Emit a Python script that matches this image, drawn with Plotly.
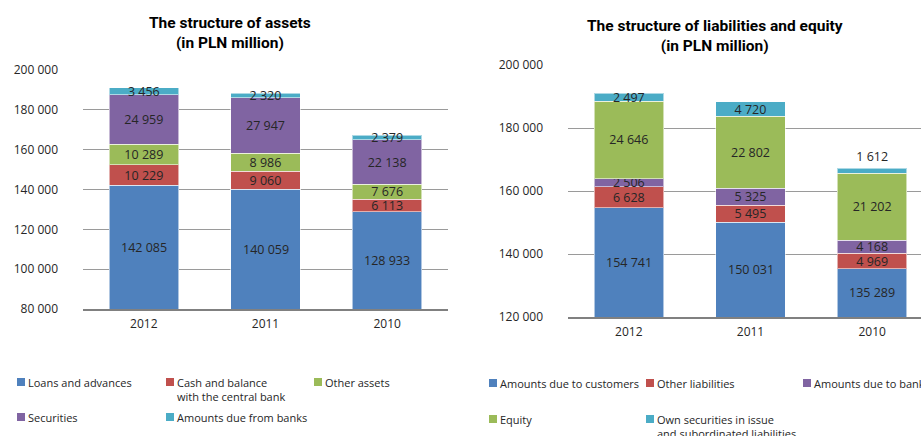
import plotly.graph_objects as go

# ---------------- data ----------------
years = ["2012", "2011", "2010"]

# Assets (PLN million)
asset_names = ["Loans and advances", "Cash and balance<br>with the central bank",
               "Other assets", "Securities", "Amounts due from banks"]
loans = [142085, 140059, 128933]
cash = [10229, 9060, 6113]
other_assets = [10289, 8986, 7676]
securities = [24959, 27947, 22138]
due_from_banks = [3456, 2320, 2379]

# Liabilities and equity (PLN million)
liab_names = ["Amounts due to customers", "Other liabilities", "Amounts due to banks",
              "Equity", "Own securities in issue<br>and subordinated liabilities"]
due_to_customers = [154741, 150031, 135289]
other_liab = [6628, 5495, 4969]
due_to_banks = [2506, 5325, 4168]
equity = [24646, 22802, 21202]
own_securities = [2497, 4720, 1612]

asset_ticks = [80000, 100000, 120000, 140000, 160000, 180000, 200000]
liab_ticks = [120000, 140000, 160000, 180000, 200000]

BLUE, RED, GREEN, PURPLE, CYAN = "#4F81BD", "#C0504D", "#9BBB59", "#8064A2", "#4BACC6"
asset_colors = [BLUE, RED, GREEN, PURPLE, CYAN]
liab_colors = [BLUE, RED, PURPLE, GREEN, CYAN]

FONT = "Open Sans"
TXT = "#262626"
W, H = 921, 436


def fmt(v):
    return f"{v:,}".replace(",", " ")


def px_x(p):
    return p / W


def px_y(p):
    return 1 - p / H


fig = go.Figure()
annotations = []
shapes = []

LABEL_FONT = dict(family=FONT, size=12.5, color=TXT)


def add_stack(series, names, colors, xa, ya, ymin, top_pos):
    for i, (name, vals, col) in enumerate(zip(names, series, colors)):
        text = None if i == 0 else [fmt(v) for v in vals]
        tp = top_pos if i == len(series) - 1 else "inside"
        fig.add_trace(go.Bar(
            x=years, y=vals, name=name.replace("<br>", " "),
            marker=dict(color=col, line=dict(color="rgba(255,255,255,0.55)", width=1)),
            text=text, textposition=tp, insidetextanchor="middle",
            textangle=0, textfont=LABEL_FONT,
            xaxis=xa, yaxis=ya, showlegend=False, width=0.57, hoverinfo="skip"))
    # labels of the bottom series, centred on the visible part of the bar
    for idx, v in enumerate(series[0]):
        annotations.append(dict(text=fmt(v), x=idx, y=(ymin + v) / 2, xref=xa, yref=ya,
                                showarrow=False, font=LABEL_FONT,
                                xanchor="center", yanchor="middle"))


add_stack([loans, cash, other_assets, securities, due_from_banks], asset_names, asset_colors,
          "x", "y", asset_ticks[0], "inside")
add_stack([due_to_customers, other_liab, due_to_banks, equity, own_securities], liab_names, liab_colors,
          "x2", "y2", liab_ticks[0], ["inside", "inside", "outside"])

axis_common = dict(showgrid=False, showline=True, linecolor="#808080", linewidth=2, automargin=False,
                   type="category", ticklabelstandoff=3,
                   ticks="", tickfont=dict(family=FONT, size=12, color=TXT), fixedrange=True)
yaxis_common = dict(showgrid=True, gridcolor="#9a9a9a", gridwidth=1, zeroline=False, showline=False,
                    automargin=False,
                    ticks="", tickfont=dict(family=FONT, size=12, color=TXT), tickformat=",",
                    ticklabelstandoff=24, fixedrange=True)

fig.update_layout(
    width=W, height=H, barmode="stack", separators=". ",
    margin=dict(l=0, r=0, t=0, b=0, autoexpand=False), paper_bgcolor="white", plot_bgcolor="white",
    uniformtext=dict(minsize=12.5, mode="show"),
    xaxis=dict(domain=[px_x(83), px_x(448)], anchor="y", range=[-0.5, 2.5], **axis_common),
    yaxis=dict(domain=[px_y(309), px_y(70)], anchor="x", range=[asset_ticks[0], asset_ticks[-1]],
               tickvals=asset_ticks, **yaxis_common),
    xaxis2=dict(domain=[px_x(568), 1.0], anchor="y2", range=[-0.5, 2.5 + (W - 568 - 365) / 121.7],
                **axis_common),
    yaxis2=dict(domain=[px_y(317), px_y(65)], anchor="x2", range=[liab_ticks[0], liab_ticks[-1]],
                tickvals=liab_ticks, **yaxis_common),
)

# titles
TITLE_FONT = dict(family="Roboto", size=15.5, color="#000")
annotations.append(dict(text="<b>The structure of assets</b><br><b>(in PLN million)</b>",
                        x=px_x(230), y=px_y(33), xref="paper", yref="paper", showarrow=False,
                        font=TITLE_FONT, align="center", xanchor="center", yanchor="middle"))
annotations.append(dict(text="<b>The structure of liabilities and equity</b><br><b>(in PLN million)</b>",
                        x=px_x(715), y=px_y(36), xref="paper", yref="paper", showarrow=False,
                        font=TITLE_FONT, align="center", xanchor="center", yanchor="middle"))


# custom legends (square + text)
def legend_item(sq_x, y_c, name, color):
    shapes.append(dict(type="rect", xref="paper", yref="paper",
                       x0=px_x(sq_x), x1=px_x(sq_x + 8), y0=px_y(y_c + 4), y1=px_y(y_c - 4),
                       fillcolor=color, line=dict(width=0)))
    for k, ln in enumerate(name.split("<br>")):
        annotations.append(dict(text=ln, x=px_x(sq_x + 9), y=px_y(y_c + k * 14.5),
                                xref="paper", yref="paper", showarrow=False,
                                xanchor="left", yanchor="middle", align="left",
                                font=dict(family=FONT, size=11, color=TXT)))


asset_leg_pos = [(17, 382), (166, 382), (314, 382), (17, 417), (166, 417)]
for (sx, sy), name, col in zip(asset_leg_pos, asset_names, asset_colors):
    legend_item(sx, sy, name, col)

liab_leg_pos = [(489, 383), (646, 383), (803, 383), (489, 419), (646, 419)]
for (sx, sy), name, col in zip(liab_leg_pos, liab_names, liab_colors):
    legend_item(sx, sy, name, col)

fig.update_layout(annotations=annotations, shapes=shapes)

fig.write_html("out.html", config={"displayModeBar": False},
               post_script="document.body.style.margin='0';document.body.style.overflow='hidden';")
